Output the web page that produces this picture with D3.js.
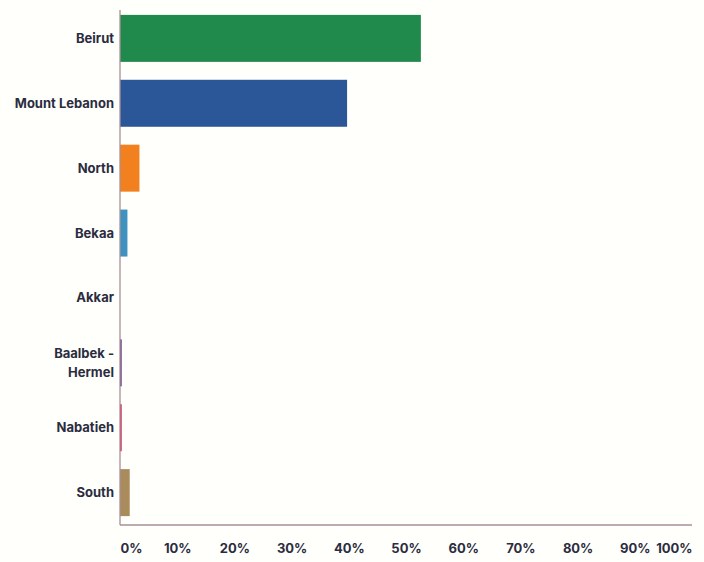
<!DOCTYPE html>
<html><head><meta charset="utf-8">
<script src="https://cdn.jsdelivr.net/npm/d3@7"></script>
<style>
html,body{margin:0;padding:0;background:#fffffb;}
svg{display:block;}
text{font-family:Inter,"Noto Sans",sans-serif;font-weight:700;fill:#2b2c40;}
</style></head>
<body><svg id="c" width="704" height="562"></svg>
<script>
const categories = ["Beirut","Mount Lebanon","North","Bekaa","Akkar","Baalbek - Hermel","Nabatieh","South"];
const values = [52.6, 39.7, 3.4, 1.3, 0, 0.3, 0.3, 1.7];
const colors = ["#1f8a4c","#2b5697","#f2801f","#3f92c0","#888888","#6b3f8c","#d2305f","#a98b5c"];
const tickValues = [0,10,20,30,40,50,60,70,80,90,100];

const svg = d3.select("#c");
const x = d3.scaleLinear().domain([0,100]).range([120,692]);
const y = d3.scaleBand().domain(categories).range([6,525]).paddingInner(0.276).paddingOuter(0.137);

svg.selectAll("rect.bar").data(categories).enter().append("rect")
  .attr("class","bar")
  .attr("x", x(0))
  .attr("y", d => y(d))
  .attr("width", (d,i) => x(values[i]) - x(0))
  .attr("height", y.bandwidth())
  .attr("fill", (d,i) => colors[i]);

// axes lines
const axisColor = "#a88f98";
svg.append("line").attr("x1",x(0)).attr("x2",x(0)).attr("y1",10).attr("y2",525)
  .attr("stroke",axisColor).attr("stroke-width",1.3);
svg.append("line").attr("x1",x(0)).attr("x2",x(100)).attr("y1",525).attr("y2",525)
  .attr("stroke",axisColor).attr("stroke-width",1.3);

// x tick labels
const xa = svg.append("g").attr("transform","translate(0,525)")
  .call(d3.axisBottom(x).tickValues(tickValues).tickFormat(d => d + "%").tickSize(0).tickPadding(19));
xa.select(".domain").remove();
xa.selectAll("text").style("font-size","13px").attr("fill","#2b2c40")
  .attr("font-family","Inter, 'Noto Sans', sans-serif").attr("font-weight",700)
  .attr("text-anchor",(d,i)=> i===0 ? "start" : (i===tickValues.length-1 ? "end" : "middle"));

// y labels
const yl = svg.append("g");
categories.forEach((c,i) => {
  const cy = y(c) + y.bandwidth()/2;
  const t = yl.append("text").attr("x",114).attr("text-anchor","end")
    .style("font-size","13px");
  if (c === "Baalbek - Hermel") {
    t.append("tspan").attr("x",114).attr("y",cy-9+4.5).text("Baalbek -");
    t.append("tspan").attr("x",114).attr("y",cy+10+4.5).text("Hermel");
  } else {
    t.attr("y",cy+4.5).text(c);
  }
});
</script>
</body></html>
